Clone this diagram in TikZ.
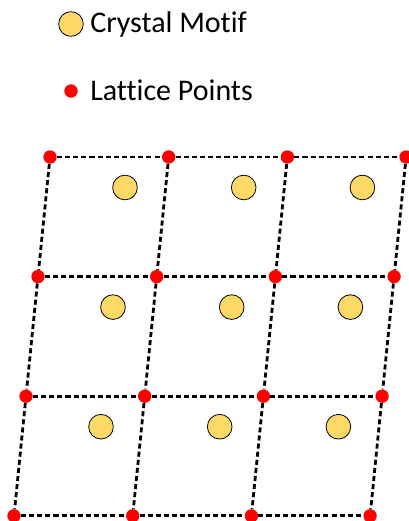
\documentclass[tikz,border=0pt]{standalone}
\usepackage{fontspec}
\setmainfont[Ligatures=NoCommon]{Carlito}
\usepackage{xcolor}
\definecolor{cDot}{HTML}{FF0000}
\definecolor{cMotif}{HTML}{FFD966}
\usetikzlibrary{positioning}
\tikzset{
  lat-pt/.style={circle,fill=cDot,inner sep=0pt,minimum size=10pt},
  motif/.style={circle,draw=black,line width=0.6pt,fill=cMotif,
    inner sep=0pt,minimum size=18.5pt},
  bond/.style={draw=black,line width=2.1pt,dash pattern=on 3.8pt off 2.3pt},
  key-text/.style={anchor=base west,inner sep=0pt,
    font=\fontsize{22.5}{27}\selectfont},
}

\begin{document}
\begin{tikzpicture}[x=0.75pt,y=-0.75pt]
  \useasboundingbox (0,0) rectangle (409,521);
  % legend
  \node[motif] (key-motif) at (71,24) {};
  \node[key-text] (key-motif-txt) at (90,32) {Crystal Motif};
  \node[lat-pt] (key-pt) at (71,91) {};
  \node[key-text] (key-pt-txt) at (90,100) {Lattice Points};
  % lattice points p<i><j>, column i, row j
  \foreach \i in {0,...,3}
    \foreach \j in {0,...,3}
      \node[lat-pt] (p\i\j) at ({50+118.7*\i-12*\j},{157+119.6*\j}) {};
  % motifs inside each cell
  \foreach \i in {0,...,2}
    \foreach \j in {0,...,2}
      \node[motif] (m\i\j) at ({125+118.7*\i-12*\j},{187.5+119.6*\j}) {};
  % cell edges
  \foreach \i [evaluate=\i as \k using int(\i+1)] in {0,1,2}
    \foreach \j in {0,...,3}
      \draw[bond] (p\i\j) -- (p\k\j);
  \foreach \j [evaluate=\j as \k using int(\j+1)] in {0,1,2}
    \foreach \i in {0,...,3}
      \draw[bond] (p\i\j) -- (p\i\k);
\end{tikzpicture}
\end{document}
